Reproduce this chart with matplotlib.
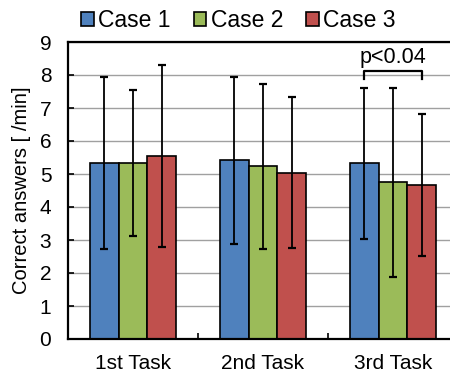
import matplotlib.pyplot as plt
import numpy as np

plt.rcParams['font.family'] = ['Liberation Sans', 'DejaVu Sans']

# tasks / cases
tasks = ['1st Task', '2nd Task', '3rd Task']
cases = ['Case 1', 'Case 2', 'Case 3']

# mean correct answers per minute
case1 = [5.34, 5.41, 5.32]
case2 = [5.34, 5.24, 4.75]
case3 = [5.55, 5.04, 4.67]

# standard deviations
sd1 = [2.61, 2.52, 2.30]
sd2 = [2.21, 2.50, 2.86]
sd3 = [2.75, 2.28, 2.14]

colors = ['#4F81BD', '#9BBB59', '#C0504D']

fig = plt.figure(figsize=(4.5, 3.74), dpi=100)
ax = fig.add_axes([68/450, 35/374, 390/450, 297/374])

x = np.arange(len(tasks))
w = 0.223
for i, (vals, sds) in enumerate(zip([case1, case2, case3], [sd1, sd2, sd3])):
    ax.bar(x + (i - 1) * w, vals, w, color=colors[i], edgecolor='black',
           linewidth=1.2, label=cases[i], zorder=2)
    ax.errorbar(x + (i - 1) * w, vals, yerr=sds, fmt='none', ecolor='black',
                elinewidth=1.3, capsize=3, capthick=1.6, zorder=3)

ax.set_xlim(-0.5, 2.5)
ax.set_ylim(0, 9)
ax.set_yticks(range(10))
ax.yaxis.grid(True, color='#a0a0a0', linewidth=1.0, zorder=0)
ax.set_axisbelow(True)
ax.set_xticks(x)
ax.set_xticklabels(tasks)
ax.set_xticks([0.5, 1.5], minor=True)
ax.tick_params(axis='x', which='major', length=0, pad=11, labelsize=15)
ax.tick_params(axis='x', which='minor', direction='in', length=4.5, width=1.2)
ax.tick_params(axis='y', direction='in', length=4.5, width=1.2, pad=12, labelsize=15)
for s in ax.spines.values():
    s.set_linewidth(1.6)
ax.set_ylabel('Correct answers [ /min]', fontsize=14.5, labelpad=6)

# significance bracket on 3rd task
xl = x[2] - w
xr = x[2] + w
ax.plot([xl, xl, xr, xr], [7.88, 8.13, 8.13, 7.88], color='black', linewidth=1.6)
ax.text((xl + xr) / 2, 8.36, 'p<0.04', ha='center', va='baseline', fontsize=15.5)

leg = fig.legend(loc='upper center', bbox_to_anchor=(0.53, 1.03), ncol=3,
                 frameon=False, fontsize=16.5, handlelength=0.55, handleheight=0.55,
                 handletextpad=0.2, columnspacing=1.0)

fig.savefig('out.png', dpi=100)
